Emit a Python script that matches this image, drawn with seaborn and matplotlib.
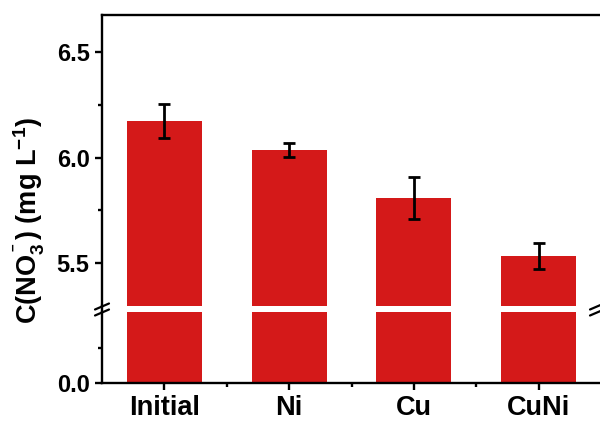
import matplotlib
matplotlib.use("Agg")
import matplotlib.pyplot as plt
from matplotlib.lines import Line2D
from matplotlib.ticker import FixedLocator, FormatStrFormatter
import seaborn as sns
import pandas as pd

# Nitrate concentration after treatment with each catalyst
samples = ["Initial", "Ni", "Cu", "CuNi"]
no3_conc = [6.175, 6.036, 5.81, 5.535]
no3_err = [0.08, 0.032, 0.10, 0.062]

df = pd.DataFrame({"sample": samples, "conc": no3_conc})

sns.set_theme(style="white")
plt.rcParams["font.family"] = ["Liberation Sans", "DejaVu Sans"]
plt.rcParams["font.weight"] = "bold"
plt.rcParams["mathtext.default"] = "regular"
plt.rcParams["xtick.color"] = "black"
plt.rcParams["ytick.color"] = "black"
plt.rcParams["text.color"] = "black"

BAR = "#d41919"
W, H = 600, 421
fig = plt.figure(figsize=(W / 100, H / 100), dpi=100)

left, right = 102 / W, 601 / W
ax_hi = fig.add_axes([left, (H - 306) / H, right - left, (306 - 15) / H])
ax_lo = fig.add_axes([left, (H - 383) / H, right - left, (383 - 312) / H])

for ax in (ax_hi, ax_lo):
    sns.barplot(data=df, x="sample", y="conc", color=BAR, width=0.6,
                saturation=1, errorbar=None, ax=ax, linewidth=0)
    ax.set_xlim(-0.5, 3.5)
    ax.set_xlabel("")
    ax.set_ylabel("")
    ax.set_facecolor("none")
    for s in ax.spines.values():
        s.set_linewidth(1.7)
        s.set_color("black")
    ax.spines["right"].set_visible(False)
    ax.tick_params(axis="both", which="major", direction="out", length=5,
                   width=1.7, color="black", left=True, bottom=True,
                   labelcolor="black")
    ax.tick_params(axis="both", which="minor", direction="out", length=3,
                   width=1.7, color="black", left=True, bottom=True)
    ax.yaxis.set_major_formatter(FormatStrFormatter("%.1f"))
    ax.tick_params(axis="y", pad=4, labelsize=17)

# upper (broken) segment
ax_hi.errorbar(range(len(samples)), no3_conc, yerr=no3_err, fmt="none",
               ecolor="black", elinewidth=2.0, capsize=4, capthick=2.0, zorder=5)
ax_hi.set_ylim(5.296, 6.676)
ax_hi.yaxis.set_major_locator(FixedLocator([5.5, 6.0, 6.5]))
ax_hi.yaxis.set_minor_locator(FixedLocator([5.75, 6.25]))
ax_hi.spines["bottom"].set_visible(False)
ax_hi.tick_params(axis="x", which="both", bottom=False, labelbottom=False)

# lower segment
ax_lo.set_ylim(0, 0.5)
ax_lo.yaxis.set_major_locator(FixedLocator([0.0]))
ax_lo.yaxis.set_minor_locator(FixedLocator([0.25]))
ax_lo.spines["top"].set_visible(False)
ax_lo.xaxis.set_minor_locator(FixedLocator([0.5, 1.5, 2.5]))
ax_lo.tick_params(axis="x", which="major", length=5, pad=3.5, labelsize=19.5)
ax_lo.tick_params(axis="x", which="minor", length=3)
for ax in (ax_hi, ax_lo):
    for lab in ax.get_xticklabels() + ax.get_yticklabels():
        lab.set_fontweight("bold")

# spine through the gap and break marks
def fx(px):
    return px / W

def fy(py):
    return (H - py) / H

fig.add_artist(Line2D([fx(102), fx(102)], [fy(305), fy(313)], color="black",
                      lw=1.7, transform=fig.transFigure))
for xc in (102, 597):
    for yc in (306.5, 312.5):
        fig.add_artist(Line2D([fx(xc - 7), fx(xc + 7)], [fy(yc + 3), fy(yc - 3)],
                              color="black", lw=1.6, transform=fig.transFigure,
                              clip_on=False))

fig.text(fx(29), fy(220), r"C(NO$_3^{^-}$) (mg L$^{-1}$)", rotation=90,
         ha="center", va="center", fontsize=19.5, fontweight="bold")

fig.savefig("out.png", dpi=100)
